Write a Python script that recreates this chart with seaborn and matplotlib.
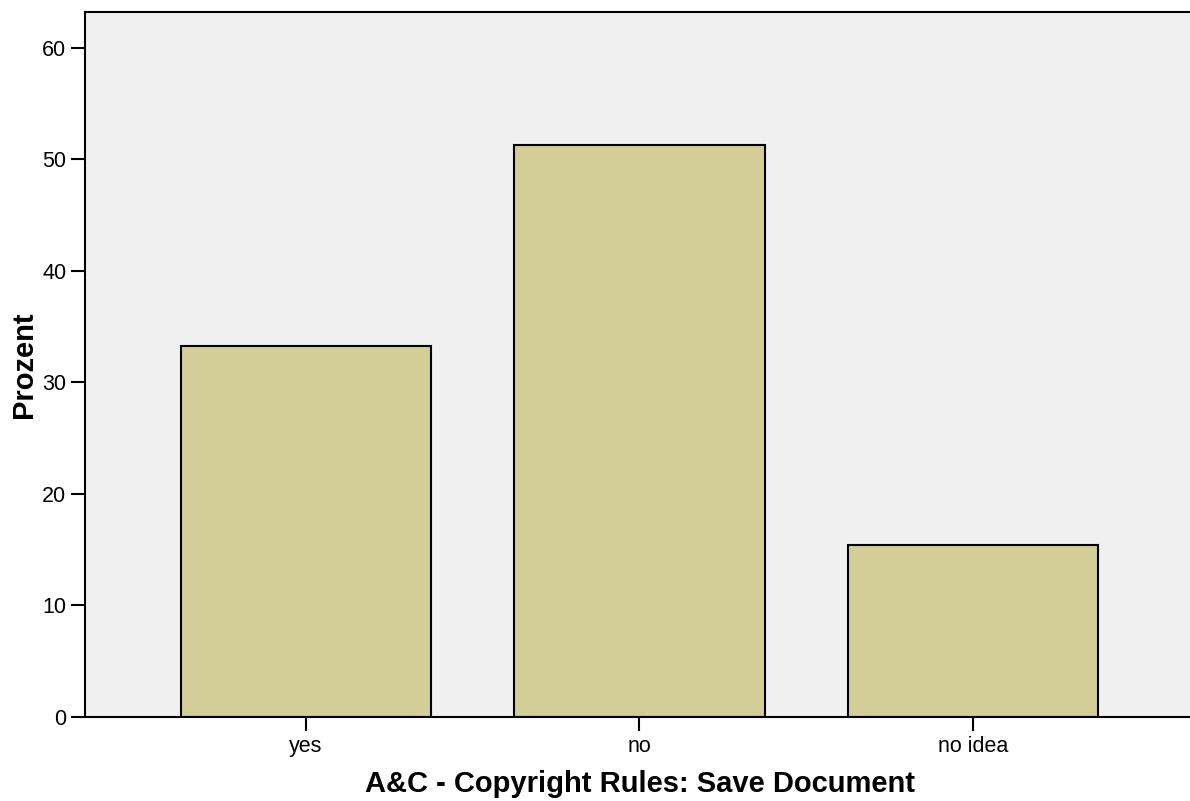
import matplotlib
matplotlib.use("Agg")
import matplotlib.pyplot as plt
import seaborn as sns
import pandas as pd

# answers and their share in percent
categories = ["yes", "no", "no idea"]
percent = [33.3, 51.3, 15.4]
y_ticks = [0, 10, 20, 30, 40, 50, 60]

sns.set_style("white")
plt.rcParams['font.family'] = ['Liberation Sans', 'DejaVu Sans']
plt.rcParams['text.color'] = 'black'
plt.rcParams['axes.labelcolor'] = 'black'
plt.rcParams['xtick.color'] = 'black'
plt.rcParams['ytick.color'] = 'black'

df = pd.DataFrame({"answer": categories, "Prozent": percent})

fig = plt.figure(figsize=(11.9, 8.01), dpi=100)
ax = fig.add_axes([84.5 / 1190, 84 / 801, 1111 / 1190, 705 / 801])
ax.set_facecolor("#F0F0F0")

sns.barplot(data=df, x="answer", y="Prozent", color="#D3CE97", width=0.75,
            edgecolor="black", linewidth=1.5, saturation=1, ax=ax)

ax.set_xlim(-0.664, 2.667)
ax.set_ylim(0, 63.2)
ax.set_yticks(y_ticks)
ax.set_xlabel("A&C - Copyright Rules: Save Document", fontsize=21, fontweight="bold", labelpad=9)
ax.set_ylabel("Prozent", fontsize=21, fontweight="bold", labelpad=3)
ax.tick_params(axis="both", which="major", labelsize=15.5, length=10, width=1.5,
               direction="out", left=True, bottom=True)
ax.tick_params(axis="x", pad=4)
ax.tick_params(axis="y", pad=3)
for side in ["left", "top", "bottom"]:
    ax.spines[side].set_color("black")
    ax.spines[side].set_linewidth(1.5)
ax.spines["right"].set_visible(False)

fig.savefig("out.png", dpi=100)
